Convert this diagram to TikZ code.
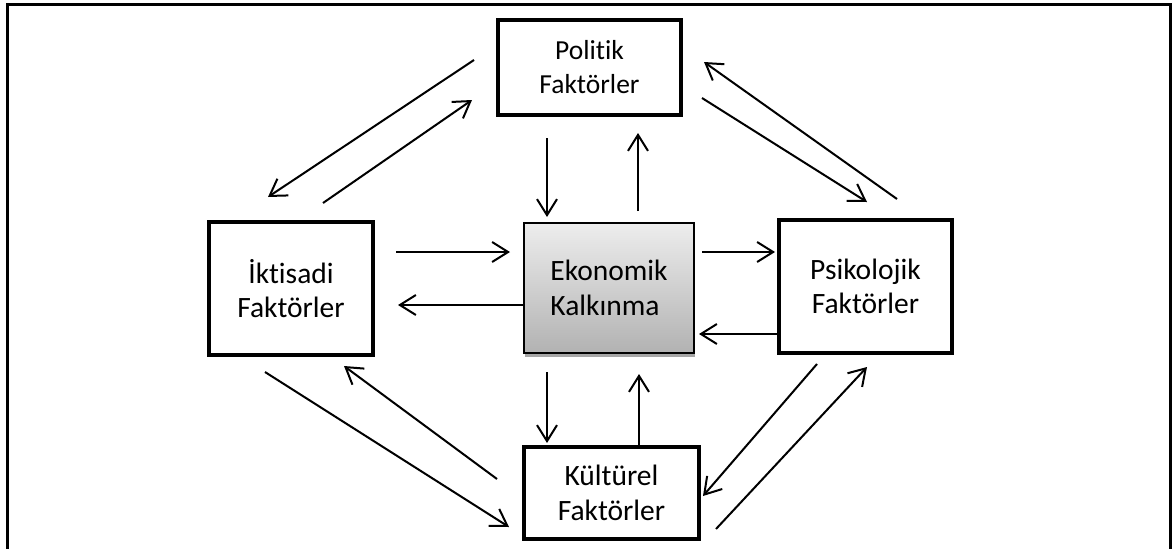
\documentclass[tikz,border=0pt]{standalone}
\usepackage{fontspec}
\setmainfont{Carlito}[Ligatures=NoCommon]
\usetikzlibrary{arrows.meta,calc,shadows}
\definecolor{gtop}{RGB}{237,237,237}
\definecolor{gbot}{RGB}{178,178,178}
\begin{document}
\begin{tikzpicture}[x=1pt,y=-1pt,
  box/.style={draw, line width=4pt, align=center, inner sep=0pt},
  arr/.style={line width=2pt, -{Straight Barb[length=16pt,width=20pt]}},
  big/.style={font=\fontsize{29.5}{34.5}\selectfont},
  small/.style={font=\fontsize{27.5}{34}\selectfont}]
\useasboundingbox (0,0) rectangle (1173,549);
\clip (0,0) rectangle (1173,549);
\draw[line width=3pt] (7,4) rectangle (1170,590);
% boxes
\node[box, small, minimum width=183pt, minimum height=95pt] (pol) at (589.5,67.5) {Politik\\Faktörler};
\node[box, big, minimum width=164pt, minimum height=133pt] (ikt) at (291,288.5) {İktisadi\\Faktörler};
\node[box, big, minimum width=173pt, minimum height=133pt] (psi) at (865.5,286.5) {Psikolojik\\Faktörler};
\node[box, big, minimum width=175pt, minimum height=92pt] (kul) at (611.5,493) {Kültürel\\Faktörler};
\node[draw, line width=2pt, top color=gtop, bottom color=gbot, inner sep=0pt,
      minimum width=170pt, minimum height=130pt, align=left, big,
      drop shadow={shadow xshift=1pt, shadow yshift=-4pt, fill=gray!70, opacity=1}]
      (ekon) at (609,288) {Ekonomik\\Kalkınma};
% vertical connectors
\draw[arr] ($(pol.south)+(-42.5,21)$) -- ($(ekon.north)+(-62,-5)$);
\draw[arr] ($(ekon.north)+(29,-11)$) -- ($(pol.south)+(48.5,16)$);
\draw[arr] ($(ekon.south)+(-62,18)$) -- ($(kul.north)+(-64.5,-2)$);
\draw[arr] ($(kul.north)+(27.5,0)$) -- ($(ekon.south)+(30,20)$);
% horizontal connectors
\draw[arr] ($(ikt.east)+(21,-36.5)$) -- ($(ekon.west)+(-13,-36)$);
\draw[arr] ($(ekon.west)+(0,17)$) -- ($(ikt.east)+(23,16.5)$);
\draw[arr] ($(ekon.east)+(7,-36)$) -- ($(psi.west)+(-2,-34.5)$);
\draw[arr] ($(psi.west)+(0,47.5)$) -- ($(ekon.east)+(4,46)$);
% diagonal connectors
\draw[arr] ($(pol.west)+(-22,-7.5)$) -- ($(ikt.north)+(-23,-23)$);
\draw[arr] ($(ikt.north)+(32,-17)$) -- ($(pol.west)+(-24,32.5)$);
\draw[arr] ($(psi.north)+(31.5,-19)$) -- ($(pol.east)+(21,-5.5)$);
\draw[arr] ($(pol.east)+(19,30.5)$) -- ($(psi.north)+(1.5,-16)$);
\draw[arr] ($(ikt.south)+(-26,15)$) -- ($(kul.west)+(-13,34)$);
\draw[arr] ($(kul.west)+(-25,-14)$) -- ($(ikt.south)+(53,9)$);
\draw[arr] ($(psi.south)+(-48.5,9)$) -- ($(kul.east)+(2,3)$);
\draw[arr] ($(kul.east)+(15,36)$) -- ($(psi.south)+(1.5,12)$);
\end{tikzpicture}
\end{document}
